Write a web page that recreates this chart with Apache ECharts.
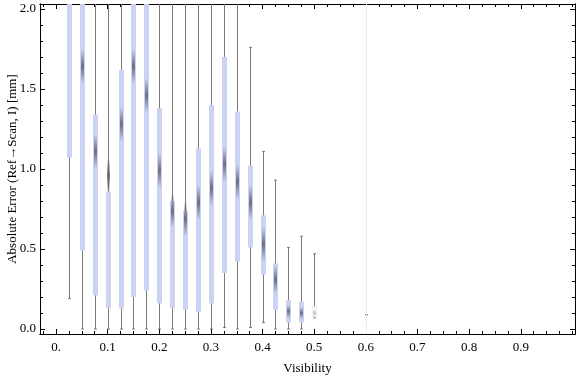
<!DOCTYPE html>
<html>
<head>
<meta charset="utf-8">
<script src="https://cdn.jsdelivr.net/npm/echarts@6/dist/echarts.min.js"></script>
<style>
  html, body { margin: 0; padding: 0; background: #fff; }
  #chart { width: 576px; height: 375px; }
</style>
</head>
<body>
<div id="chart"></div>
<script>
// box-whisker values, one entry per visibility bin
var visibility  = [0.025, 0.05, 0.075, 0.1, 0.125, 0.15, 0.175, 0.2, 0.225, 0.25, 0.275, 0.3, 0.325, 0.35, 0.375, 0.4, 0.425, 0.45, 0.475, 0.5, 0.6];
var whiskerLow  = [0.19, 0.0, 0.0, 0.0, 0.0, 0.0, 0.0, 0.0, 0.0, 0.0, 0.0, 0.0, 0.01, 0.0, 0.01, 0.04, 0.0, 0.0, 0.0, 0.07, 0.09];
var quartile1   = [1.07, 0.49, 0.21, 0.13, 0.13, 0.2, 0.24, 0.16, 0.13, 0.12, 0.11, 0.16, 0.35, 0.42, 0.51, 0.34, 0.12, 0.04, 0.04, 0.075, 0.09];
var median      = [2.3, 1.64, 1.11, 0.96, 1.28, 1.64, 1.46, 0.99, 0.74, 0.69, 0.79, 0.88, 1.03, 0.92, 0.79, 0.53, 0.31, 0.11, 0.1, 0.1, 0.09];
var quartile3   = [2.6, 2.4, 1.34, 0.86, 1.62, 2.5, 2.3, 1.38, 0.8, 0.74, 1.13, 1.4, 1.7, 1.36, 1.02, 0.71, 0.41, 0.18, 0.17, 0.14, 0.09];
var whiskerHigh = [3.0, 3.0, 2.6, 2.6, 2.6, 3.0, 3.0, 2.6, 2.6, 2.6, 2.6, 2.6, 2.6, 2.6, 1.76, 1.11, 0.93, 0.51, 0.58, 0.47, 0.09];

// tick labels
var xTickLabels = [0, 0.1, 0.2, 0.3, 0.4, 0.5, 0.6, 0.7, 0.8, 0.9];
var yTickLabels = [0, 0.5, 1, 1.5, 2];

var xMinor = [];
for (var i = -1; i <= 40; i++) xMinor.push(+(i * 0.025).toFixed(3));
var yMinor = [];
for (var j = 0; j <= 20; j++) yMinor.push(+(j * 0.1).toFixed(2));

var X_MIN = -0.031, X_MAX = 1.005, Y_MIN = -0.031, Y_MAX = 2.031;
var FONT = 'Liberation Serif';

var rows = visibility.map(function (v, i) {
  return [v, whiskerLow[i], quartile1[i], median[i], quartile3[i], whiskerHigh[i]];
});

function xAxisDef(pos, ticks, len, withLabel) {
  return {
    type: 'value', position: pos, min: X_MIN, max: X_MAX,
    axisLine: { show: true, onZero: false, lineStyle: { color: '#000', width: 1 } },
    axisTick: { show: true, inside: true, length: len, customValues: ticks, lineStyle: { color: '#000', width: 1 } },
    axisLabel: withLabel ? {
      show: true, customValues: xTickLabels, margin: 7, color: '#000',
      fontFamily: FONT, fontSize: 13,
      formatter: function (v) { return v === 0 ? '0.' : v.toFixed(1); }
    } : { show: false },
    splitLine: { show: false },
    name: withLabel ? 'Visibility' : '',
    nameLocation: 'middle', nameGap: 28, nameMoveOverlap: false,
    nameTextStyle: { color: '#000', fontFamily: FONT, fontSize: 13 }
  };
}

function yAxisDef(pos, ticks, len, withLabel) {
  return {
    type: 'value', position: pos, min: Y_MIN, max: Y_MAX,
    axisLine: { show: true, onZero: false, lineStyle: { color: '#000', width: 1 } },
    axisTick: { show: true, inside: true, length: len, customValues: ticks, lineStyle: { color: '#000', width: 1 } },
    axisLabel: withLabel ? {
      show: true, customValues: yTickLabels, margin: 4, color: '#000',
      fontFamily: FONT, fontSize: 13,
      formatter: function (v) { return v.toFixed(1); }
    } : { show: false },
    splitLine: { show: false },
    name: withLabel ? 'Absolute Error (Ref\u2192Scan, I) [mm]' : '',
    nameLocation: 'middle', nameGap: 21, nameMoveOverlap: false,
    nameTextStyle: { color: '#000', fontFamily: FONT, fontSize: 13 }
  };
}

function renderBox(params, api) {
  var x = api.value(0);
  var lo = api.value(1), q1 = api.value(2), med = api.value(3), q3 = api.value(4), hi = api.value(5);
  var pLo = api.coord([x, lo]);
  var pHi = api.coord([x, hi]);
  var pQ1 = api.coord([x, q1]);
  var pQ3 = api.coord([x, q3]);
  var cx = Math.round(pLo[0]) + 0.5;
  var gray = '#7a7a7a';
  var pale = x === 0.5;
  var children = [
    { type: 'line', shape: { x1: cx, y1: pLo[1], x2: cx, y2: pHi[1] }, style: { stroke: gray, lineWidth: 1 } },
    { type: 'line', shape: { x1: cx - 1.5, y1: pLo[1], x2: cx + 1.5, y2: pLo[1] }, style: { stroke: gray, lineWidth: 1 } },
    { type: 'line', shape: { x1: cx - 1.5, y1: pHi[1], x2: cx + 1.5, y2: pHi[1] }, style: { stroke: gray, lineWidth: 1 } }
  ];
  if (q3 > q1) {
    children.push({
      type: 'rect',
      shape: { x: cx - 2.5, y: pQ3[1], width: 5, height: pQ1[1] - pQ3[1] },
      style: { fill: pale ? '#f7f7f9' : '#cbd3f4', stroke: pale ? '#e4e4e4' : null, lineWidth: 0.5 }
    });
    var half = Math.min(0.11, 0.3 * Math.abs(q3 - q1));
    var pA = api.coord([x, med + half]);
    var pB = api.coord([x, med - half]);
    children.push({
      type: 'rect',
      shape: { x: cx - 1.5, y: pA[1], width: 3, height: pB[1] - pA[1] },
      style: {
        fill: new echarts.graphic.LinearGradient(0, 0, 0, 1, [
          { offset: 0, color: 'rgba(85,85,95,0)' },
          { offset: 0.5, color: pale ? 'rgba(150,150,150,0.5)' : 'rgba(85,85,95,0.8)' },
          { offset: 1, color: 'rgba(85,85,95,0)' }
        ])
      }
    });
  }
  return { type: 'group', children: children };
}

var chart = echarts.init(document.getElementById('chart'), null, { renderer: 'canvas' });

var option = {
  animation: false,
  backgroundColor: '#fff',
  grid: { left: 40, right: 1, top: 4, bottom: 41, containLabel: false, outerBoundsMode: 'none' },
  xAxis: [
    xAxisDef('bottom', xTickLabels, 5, true),
    xAxisDef('bottom', xMinor, 3, false),
    xAxisDef('top', xTickLabels, 5, false),
    xAxisDef('top', xMinor, 3, false)
  ],
  yAxis: [
    yAxisDef('left', yTickLabels, 5, true),
    yAxisDef('left', yMinor, 3, false),
    yAxisDef('right', yTickLabels, 5, false),
    yAxisDef('right', yMinor, 3, false)
  ],
  series: [
    {
      type: 'line', xAxisIndex: 0, yAxisIndex: 0, data: [], silent: true,
      markLine: {
        silent: true, symbol: 'none', label: { show: false },
        lineStyle: { color: '#ececec', width: 1, type: 'solid' },
        data: [{ xAxis: 0.6 }]
      }
    },
    {
      type: 'custom', xAxisIndex: 0, yAxisIndex: 0, clip: true,
      renderItem: renderBox,
      encode: { x: 0, y: [1, 2, 3, 4, 5] },
      data: rows
    }
  ]
};

chart.setOption(option);
</script>
</body>
</html>
